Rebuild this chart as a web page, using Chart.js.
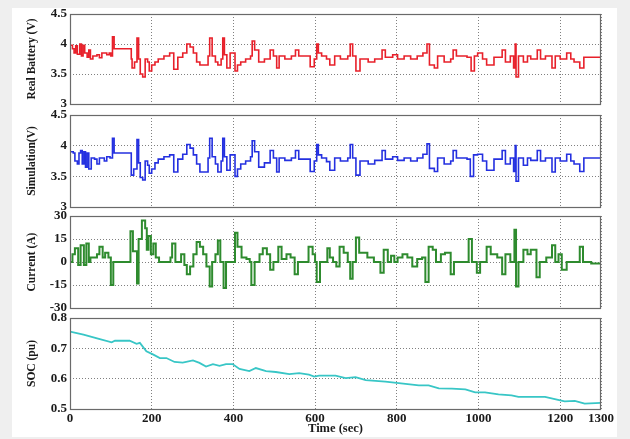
<!DOCTYPE html>
<html lang="en">
<head>
<meta charset="UTF-8">
<title>Battery test</title>
<script src="https://cdn.jsdelivr.net/npm/chart.js"></script>
<style>
    body { margin: 0; background: #efefef; }
    #wrap { position: relative; width: 630px; height: 439px; }
    #paper { position: absolute; left: 12px; top: 8px; width: 605px; height: 429px; background: #fff; }
    canvas { position: absolute; left: 0; top: 0; }
</style>
</head>
<body>
<div id="wrap">
    <div id="paper"></div>
    <canvas id="c1" width="630" height="439"></canvas>
    <canvas id="c2" width="630" height="439"></canvas>
    <canvas id="c3" width="630" height="439"></canvas>
    <canvas id="c4" width="630" height="439"></canvas>
</div>
<script>
    // time axis ticks (sec)
    var xTicks = [0, 200, 400, 600, 800, 1000, 1200, 1300];

    // real battery voltage (V), step values starting at each time
    var realT = [0, 6, 10, 14, 18, 24, 28, 32, 36, 42, 46, 50, 56, 66, 72, 78, 90, 96, 100, 104, 108, 146, 150, 152, 158, 164, 168, 172, 178, 184, 190, 194, 200, 208, 216, 230, 244, 254, 264, 276, 286, 294, 302, 310, 318, 338, 342, 348, 356, 362, 370, 374, 378, 384, 392, 404, 410, 418, 430, 442, 446, 452, 462, 476, 490, 498, 506, 512, 526, 542, 552, 560, 588, 598, 604, 608, 616, 628, 636, 648, 662, 680, 686, 692, 700, 710, 730, 746, 764, 772, 790, 802, 818, 834, 850, 864, 874, 880, 892, 900, 916, 932, 938, 946, 972, 982, 990, 998, 1010, 1020, 1038, 1058, 1066, 1078, 1086, 1090, 1092, 1098, 1110, 1120, 1128, 1144, 1152, 1164, 1180, 1188, 1200, 1216, 1226, 1234, 1248, 1258, 1300];
    var realV = [3.98, 3.92, 3.85, 3.97, 3.83, 4.0, 3.8, 3.98, 3.85, 3.78, 3.9, 3.75, 3.8, 3.82, 3.77, 3.85, 3.82, 3.85, 3.8, 4.12, 3.92, 3.92, 3.75, 3.6, 3.7, 4.1, 3.75, 3.5, 3.45, 3.75, 3.7, 3.55, 3.65, 3.7, 3.75, 3.8, 3.85, 3.58, 3.78, 3.85, 4.0, 3.95, 3.85, 3.7, 3.65, 3.8, 4.1, 3.8, 3.7, 3.65, 3.75, 4.1, 3.82, 3.6, 3.85, 3.55, 3.65, 3.7, 3.75, 3.8, 4.05, 3.9, 3.7, 3.75, 3.9, 3.8, 3.6, 3.8, 3.75, 3.8, 3.9, 3.8, 3.62, 3.75, 4.0, 3.85, 3.8, 3.75, 3.65, 3.8, 3.75, 3.8, 4.0, 3.8, 3.55, 3.75, 3.7, 3.75, 3.9, 3.78, 3.82, 3.75, 3.8, 3.75, 3.8, 3.85, 4.0, 3.65, 3.6, 3.8, 3.7, 3.75, 3.9, 3.8, 3.78, 3.55, 3.8, 3.85, 3.75, 3.65, 3.78, 3.9, 3.7, 3.8, 3.6, 4.0, 3.45, 3.8, 3.7, 3.8, 3.75, 3.9, 3.75, 3.8, 3.6, 3.8, 3.75, 3.85, 3.75, 3.7, 3.6, 3.78, 3.78];

    // simulated voltage (V)
    var simT = [0, 8, 12, 18, 22, 26, 30, 34, 38, 42, 46, 52, 60, 66, 72, 84, 90, 98, 104, 108, 146, 150, 156, 164, 168, 172, 178, 184, 190, 194, 200, 208, 216, 230, 244, 254, 264, 276, 286, 294, 302, 310, 318, 338, 342, 348, 356, 362, 370, 374, 378, 384, 392, 404, 410, 418, 430, 442, 446, 452, 462, 476, 490, 498, 506, 512, 526, 542, 552, 560, 588, 598, 604, 608, 616, 628, 636, 648, 662, 680, 686, 692, 700, 710, 730, 746, 764, 772, 790, 802, 818, 834, 850, 864, 874, 880, 892, 900, 916, 932, 938, 946, 972, 980, 988, 998, 1010, 1020, 1038, 1058, 1066, 1078, 1086, 1090, 1092, 1098, 1110, 1120, 1128, 1144, 1152, 1164, 1180, 1188, 1200, 1216, 1226, 1234, 1248, 1258, 1300];
    var simV = [3.9, 3.88, 3.75, 3.7, 3.88, 3.92, 3.7, 3.9, 3.65, 3.88, 3.62, 3.8, 3.78, 3.7, 3.8, 3.75, 3.82, 3.8, 4.12, 3.88, 3.88, 3.52, 3.62, 4.1, 3.72, 3.48, 3.44, 3.75, 3.68, 3.55, 3.62, 3.72, 3.78, 3.82, 3.85, 3.57, 3.78, 3.86, 4.02, 3.96, 3.85, 3.7, 3.57, 3.8, 4.12, 3.82, 3.7, 3.57, 3.75, 4.12, 3.82, 3.6, 3.85, 3.5, 3.62, 3.7, 3.75, 3.82, 4.08, 3.9, 3.65, 3.72, 3.92, 3.8, 3.57, 3.8, 3.76, 3.8, 3.92, 3.78, 3.58, 3.75, 4.02, 3.85, 3.8, 3.74, 3.6, 3.8, 3.75, 3.8, 4.02, 3.8, 3.52, 3.75, 3.7, 3.76, 3.92, 3.78, 3.82, 3.76, 3.8, 3.75, 3.8, 3.86, 4.03, 3.63, 3.58, 3.8, 3.7, 3.75, 3.92, 3.8, 3.78, 3.5, 3.85, 3.86, 3.75, 3.6, 3.78, 3.92, 3.7, 3.8, 3.58, 4.0, 3.42, 3.8, 3.68, 3.8, 3.76, 3.92, 3.75, 3.8, 3.57, 3.8, 3.75, 3.86, 3.75, 3.7, 3.58, 3.8, 3.8];

    // current (A)
    var curT = [0, 6, 12, 20, 26, 34, 40, 46, 50, 66, 72, 80, 86, 94, 100, 106, 148, 154, 164, 168, 176, 184, 188, 192, 198, 204, 210, 218, 246, 250, 258, 272, 280, 286, 294, 302, 310, 318, 326, 334, 342, 348, 356, 362, 368, 376, 382, 404, 410, 420, 432, 440, 444, 452, 464, 472, 482, 490, 498, 510, 518, 530, 540, 550, 558, 584, 594, 600, 604, 612, 630, 636, 644, 652, 660, 670, 680, 686, 692, 700, 708, 728, 744, 760, 768, 778, 786, 794, 802, 814, 826, 838, 850, 862, 870, 878, 888, 896, 908, 918, 932, 940, 976, 984, 996, 1004, 1020, 1030, 1046, 1058, 1066, 1078, 1088, 1092, 1098, 1110, 1120, 1128, 1142, 1150, 1166, 1180, 1188, 1196, 1204, 1216, 1248, 1256, 1276, 1300];
    var curA = [0, 5, 9, -2, 11, -2, 12, 0, 3, 5, 10, 3, 6, 3, -15, 0, 20, 7, -14, 15, 27, 22, 8, 17, 5, 12, 3, 0, 3, 12, 0, 5, -2, -8, -3, 5, 13, 10, 5, -3, -16, 0, 5, 14, 0, -17, 0, 19, 10, 3, 2, 0, -15, 0, 5, 9, 5, -5, 0, 10, 2, 5, 3, -8, 0, 10, 5, 0, -13, 0, 9, 3, 0, -3, 10, 6, 0, -11, 0, 16, 6, 3, 0, -7, 8, 0, 4, 0, 3, 5, 3, -3, 2, 3, -13, 10, 8, 0, 5, 6, -8, 0, 15, 0, -7, 0, 10, 5, 3, -8, 5, 0, 21, -16, 0, 8, 5, 8, -10, 0, 3, 11, 0, 5, -5, 0, 10, 0, -1, -1];

    // state of charge (pu)
    var socT = [0, 33, 73, 102, 110, 146, 163, 171, 187, 203, 220, 236, 256, 276, 301, 317, 333, 350, 366, 382, 398, 415, 439, 455, 480, 504, 537, 561, 585, 598, 610, 650, 675, 699, 724, 772, 805, 854, 878, 903, 935, 968, 992, 1016, 1049, 1081, 1098, 1130, 1163, 1195, 1211, 1236, 1260, 1300];
    var socV = [0.755, 0.745, 0.73, 0.72, 0.725, 0.725, 0.715, 0.718, 0.69, 0.68, 0.668, 0.668, 0.655, 0.653, 0.66, 0.652, 0.64, 0.648, 0.642, 0.648, 0.648, 0.632, 0.625, 0.635, 0.625, 0.622, 0.615, 0.618, 0.613, 0.607, 0.61, 0.61, 0.602, 0.605, 0.595, 0.59, 0.585, 0.578, 0.578, 0.568, 0.567, 0.565, 0.555, 0.555, 0.548, 0.545, 0.54, 0.54, 0.54, 0.53, 0.525, 0.527, 0.518, 0.52];

    var vTicks = [3, 3.5, 4, 4.5];
    var aTicks = [-30, -15, 0, 15, 30];
    var socTicks = [0.5, 0.6, 0.7, 0.8];

    var serif = 'Liberation Serif';
    var W = 630, H = 439;

    function pts(t, v) {
        return t.map((x, i) => ({ x: x, y: v[i] }));
    }

    // solid box around each plot area
    var frame = {
        id: 'frame',
        afterDraw(chart) {
            var a = chart.chartArea, ctx = chart.ctx;
            ctx.save();
            ctx.strokeStyle = '#6a6a6a';
            ctx.lineWidth = 1.2;
            ctx.strokeRect(a.left + 0.5, a.top + 0.5, a.width - 1, a.height);
            ctx.restore();
        }
    };

    function makePanel(id, p) {
        var xh = p.last ? 30 : 0;
        new Chart(document.getElementById(id), {
            type: 'line',
            data: {
                datasets: [{
                    data: pts(p.t, p.v),
                    borderColor: p.color,
                    borderWidth: p.lw,
                    pointRadius: 0,
                    stepped: p.step ? 'before' : false,
                    tension: 0
                }]
            },
            options: {
                responsive: false,
                animation: false,
                events: [],
                layout: { padding: { left: 0, right: 29, top: p.top, bottom: H - p.bottom - xh } },
                plugins: { legend: { display: false }, tooltip: { enabled: false } },
                scales: {
                    x: {
                        type: 'linear', min: 0, max: 1300,
                        afterBuildTicks: s => { s.ticks = xTicks.map(v => ({ value: v })); },
                        afterFit: s => { s.height = xh; },
                        grid: { color: '#808080', lineWidth: 1, drawTicks: false },
                        border: { display: false, dash: [1, 2] },
                        ticks: {
                            display: !!p.last, padding: 2, maxRotation: 0, autoSkip: false,
                            color: '#1a1a1a', font: { family: serif, weight: 'bold', size: 13 },
                            callback: v => String(v)
                        },
                        title: {
                            display: !!p.last, text: 'Time (sec)', color: '#1a1a1a',
                            font: { family: serif, weight: 'bold', size: 12.5 },
                            padding: { top: 0, bottom: 3 }
                        }
                    },
                    y: {
                        min: p.ticks[0], max: p.ticks[p.ticks.length - 1],
                        afterBuildTicks: s => { s.ticks = p.ticks.map(v => ({ value: v })); },
                        afterFit: s => { s.width = 70; },
                        grid: { color: '#808080', lineWidth: 1, drawTicks: false },
                        border: { display: false, dash: [1, 2] },
                        ticks: {
                            padding: 3, color: '#1a1a1a',
                            font: { family: serif, weight: 'bold', size: 13 },
                            callback: v => String(v)
                        },
                        title: {
                            display: true, text: p.label, color: '#1a1a1a',
                            font: { family: serif, weight: 'bold', size: 11.5 },
                            padding: { top: 25, bottom: 0 }
                        }
                    }
                }
            },
            plugins: [frame]
        });
    }

    makePanel('c1', { t: realT, v: realV, color: '#e8202a', lw: 1.6, step: true, top: 14, bottom: 104, ticks: vTicks, label: 'Real Battery (V)' });
    makePanel('c2', { t: simT, v: simV, color: '#2430e0', lw: 1.6, step: true, top: 115, bottom: 207, ticks: vTicks, label: 'Simulation(V)' });
    makePanel('c3', { t: curT, v: curA, color: '#2e8b2e', lw: 2, step: true, top: 216, bottom: 308, ticks: aTicks, label: 'Current (A)' });
    makePanel('c4', { t: socT, v: socV, color: '#38c6c6', lw: 1.8, step: false, top: 318, bottom: 409, ticks: socTicks, label: 'SOC (pu)', last: true });
</script>
</body>
</html>
